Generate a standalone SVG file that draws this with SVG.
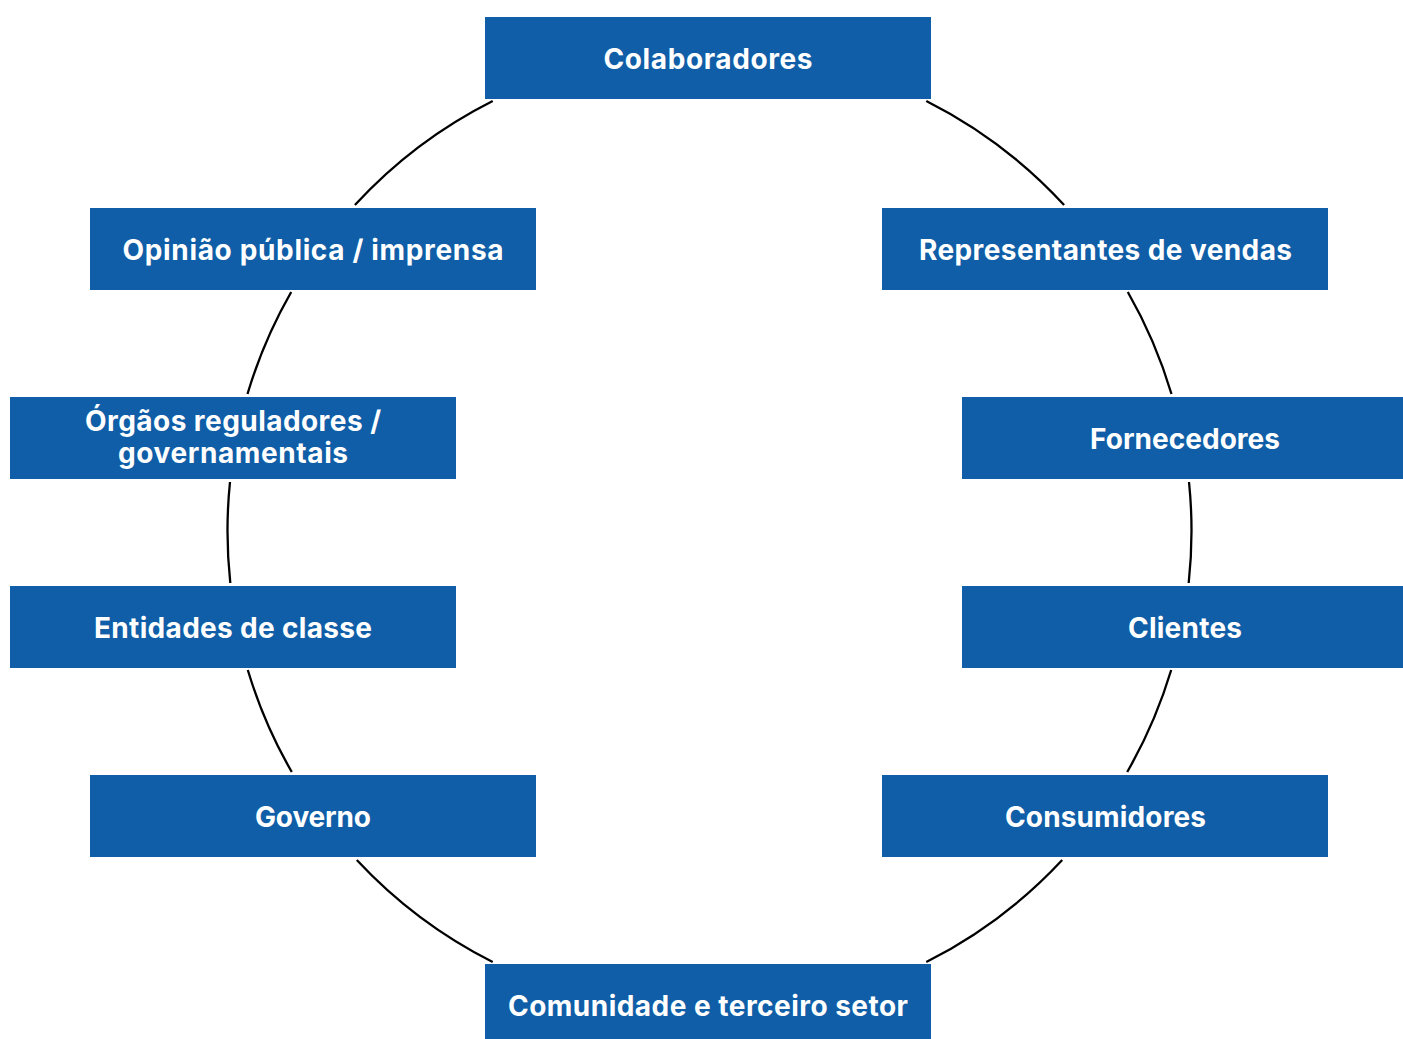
<svg xmlns="http://www.w3.org/2000/svg" width="1403" height="1039" viewBox="0 0 1403 1039">
<style>
.box{fill:#0F5EA7}
.lbl{font-family:Inter,"Open Sans","Liberation Sans",sans-serif;font-weight:700;font-size:28px;fill:#ffffff;text-anchor:middle}
.arc{fill:none;stroke:#000000;stroke-width:2.3}
</style>
<rect width="1403" height="1039" fill="#ffffff"/>
<g id="connectors">
<path class="arc" d="M926.3,101 A482,482 0 0 1 1064.1,205"/>
<path class="arc" d="M1127.8,292 A482,482 0 0 1 1171.5,394"/>
<path class="arc" d="M1189,482 A482,482 0 0 1 1188.7,583"/>
<path class="arc" d="M1171.2,670 A482,482 0 0 1 1127.2,772"/>
<path class="arc" d="M1062.2,860 A482,482 0 0 1 926.3,962"/>
<path class="arc" d="M492.7,962 A482,482 0 0 1 356.8,860"/>
<path class="arc" d="M291.8,772 A482,482 0 0 1 247.8,670"/>
<path class="arc" d="M230.3,583 A482,482 0 0 1 230,482"/>
<path class="arc" d="M247.5,394 A482,482 0 0 1 291.2,292"/>
<path class="arc" d="M354.9,205 A482,482 0 0 1 492.7,101"/>
</g>
<g id="colaboradores"><rect class="box" x="485" y="17" width="446" height="82"/><text class="lbl" x="708" y="69" textLength="209">Colaboradores</text></g>
<g id="representantes"><rect class="box" x="882" y="208" width="446" height="82"/><text class="lbl" x="1105.5" y="260" textLength="373">Representantes de vendas</text></g>
<g id="fornecedores"><rect class="box" x="962" y="397" width="446" height="82"/><text class="lbl" x="1185" y="449" textLength="190">Fornecedores</text></g>
<g id="clientes"><rect class="box" x="962" y="586" width="446" height="82"/><text class="lbl" x="1185" y="638" textLength="114">Clientes</text></g>
<g id="consumidores"><rect class="box" x="882" y="775" width="446" height="82"/><text class="lbl" x="1105.5" y="827" textLength="201">Consumidores</text></g>
<g id="comunidade"><rect class="box" x="485" y="964" width="446" height="82"/><text class="lbl" x="708" y="1016" textLength="400">Comunidade e terceiro setor</text></g>
<g id="governo"><rect class="box" x="90" y="775" width="446" height="82"/><text class="lbl" x="313" y="827" textLength="116">Governo</text></g>
<g id="entidades"><rect class="box" x="10" y="586" width="446" height="82"/><text class="lbl" x="233" y="638" textLength="278">Entidades de classe</text></g>
<g id="orgaos"><rect class="box" x="10" y="397" width="446" height="82"/><text class="lbl" x="233" y="431" textLength="296">Órgãos reguladores /</text><text class="lbl" x="233" y="463" textLength="230">governamentais</text></g>
<g id="opiniao"><rect class="box" x="90" y="208" width="446" height="82"/><text class="lbl" x="313" y="260" textLength="381">Opinião pública / imprensa</text></g>
</svg>
